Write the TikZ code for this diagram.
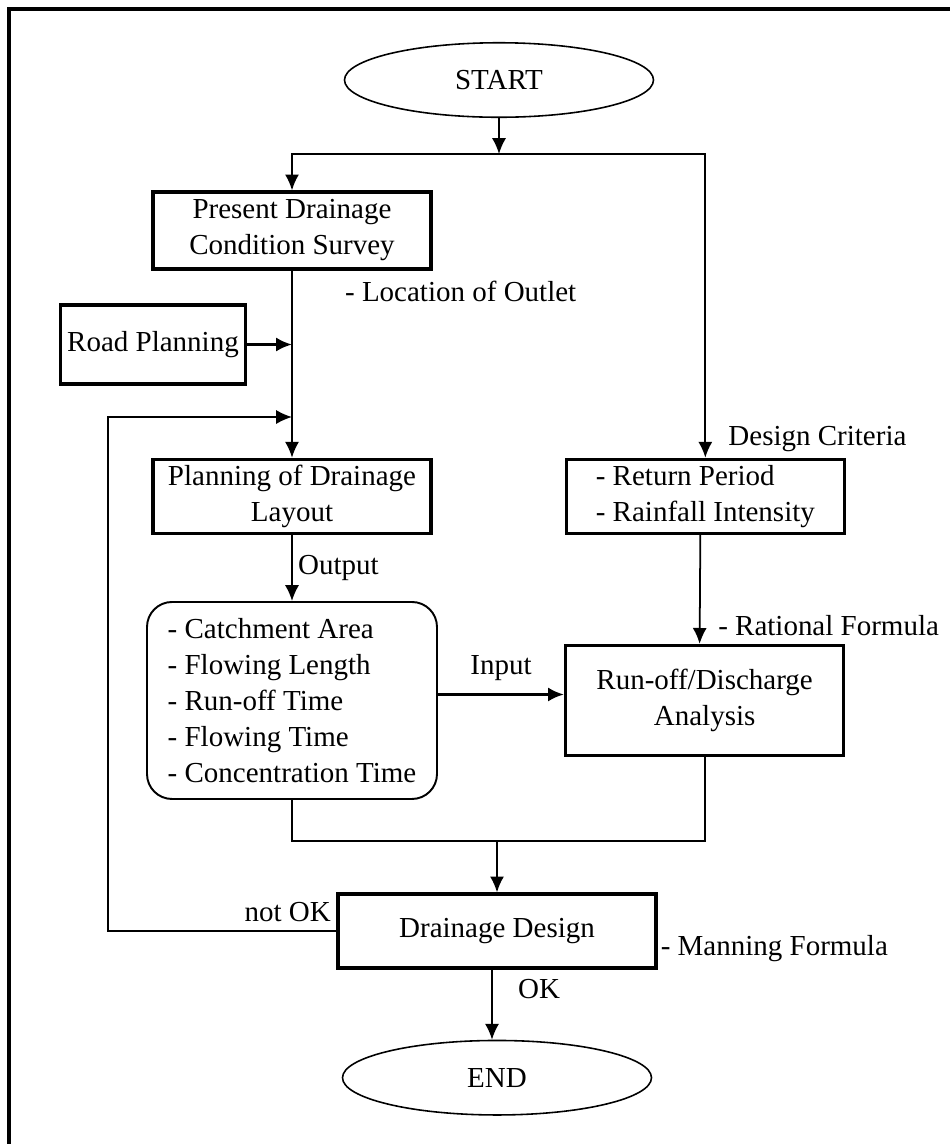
\documentclass[tikz,border=0pt]{standalone}
\usepackage{fontspec}
\setmainfont{Liberation Serif}
\usetikzlibrary{arrows.meta,positioning,shapes.geometric}

\begin{document}
\begin{tikzpicture}[>={Latex[length=9pt,width=8pt]},
  font=\fontsize{16.5}{20.5}\selectfont,
  box/.style={draw, line width=1.9pt, align=center, inner sep=2pt, minimum width=5.56cm, minimum height=1.48cm},
  oval/.style={draw, ellipse, line width=0.9pt, minimum width=6.18cm, minimum height=1.49cm},
  conn/.style={line width=1pt},
  heavy/.style={line width=1.6pt},
  lbl/.style={inner sep=3pt}]
  \useasboundingbox (0,0) rectangle (19,-22.88);
  % frame (cut by the page on the right and at the bottom)
  \draw[line width=1.9pt] (0.18,-22.88) |- (19,-0.18);

  \node[oval] (start) at (9.98,-1.6) {START};
  \node[box, minimum height=1.54cm] (present) at (5.84,-4.61) {Present Drainage\\Condition Survey};
  \node[box, minimum width=3.7cm, minimum height=1.58cm] (road) at (3.06,-6.89) {Road Planning};
  \node[box, below=3.74cm of present] (planning) {Planning of Drainage\\Layout};
  \node[box, align=left, right=2.64cm of planning] (criteria) {- Return Period\\- Rainfall Intensity};
  \node[draw, rounded corners=0.5cm, line width=1.1pt, align=left, minimum width=5.8cm, minimum height=3.94cm, below=1.32cm of planning] (params)
    {- Catchment Area\\- Flowing Length\\- Run-off Time\\- Flowing Time\\- Concentration Time};
  \node[box, minimum height=2.2cm, right=2.52cm of params] (runoff) {Run-off/Discharge\\Analysis};
  \node[box, minimum width=6.36cm] (design) at (9.94,-18.62) {Drainage Design};
  \node[oval, below=1.4cm of design] (finish) {END};

  % side notes
  \node[lbl, below right=0.1cm and 0.95cm of present.south] (lbloutlet) {- Location of Outlet};
  \node[lbl, above right=0pt and 0.35cm of criteria.north] (lblcriteria) {Design Criteria};
  \node[lbl, above right=0.05cm and 0.16cm of runoff.north] (lblrational) {- Rational Formula};
  \node[lbl, above right=0.05cm and -0.05cm of design.south east] (lblmanning) {- Manning Formula};
  \node[lbl, above left=0.07cm and 0cm of design.west] (lblnotok) {not OK};

  \coordinate (fork) at (start.south |- 0,-3.08);
  \coordinate (join) at (design.north |- 0,-16.82);
  \coordinate (loop) at (2.16,-8.34);

  \draw[conn,->] (start.south) -- (fork);
  \draw[conn,->] (fork) -| (present.north);
  \draw[conn,->] (fork) -| (criteria.north);
  \draw[conn,->] (present.south) -- (planning.north);
  \draw[heavy,->] (road.east) -- (present.south |- road.east);
  \draw[conn,->] (design.west) -| (loop) -- (present.south |- loop);
  \draw[conn,->] (planning) -- node[lbl, right] (lbloutput) {Output} (params);
  \draw[conn,->] ([xshift=-0.1cm]criteria.south) -- ([xshift=-0.1cm]runoff.north);
  \draw[heavy,->] ([yshift=0.12cm]params.east) -- node[lbl, above=0.15cm] (lblinput) {Input} ([yshift=0.12cm]runoff.west);
  \draw[conn] (params.south) |- (join) -| (runoff.south);
  \draw[conn,->] (join) -- (design.north);
  \draw[conn,->] ([xshift=-0.1cm]design.south) -- node[lbl, right=0.4cm, pos=0.27] (lblok) {OK} ([xshift=-0.1cm]finish.north);
\end{tikzpicture}
\end{document}
